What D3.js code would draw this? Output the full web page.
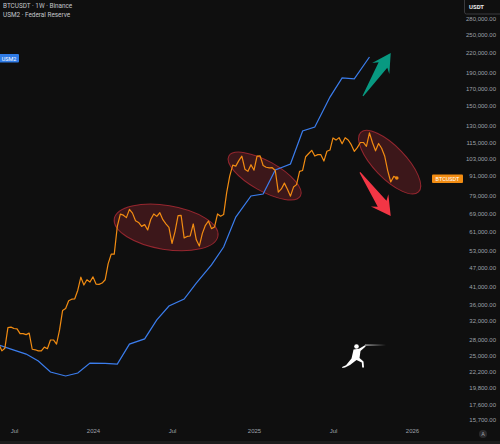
<!DOCTYPE html>
<html>
<head>
<meta charset="utf-8">
<script src="https://cdn.jsdelivr.net/npm/d3@7"></script>
<style>
  html, body { margin: 0; background: #0f0f0f; }
  svg { display: block; font-family: Roboto, "Liberation Sans", sans-serif; }
</style>
</head>
<body>
<svg id="chart"></svg>
<script>
'use strict';

// BTCUSDT weekly closes, first bar = week of 2023-05-29
var btcStart = '2023-05-29';
var btcClose = [
  27100, 25800, 26300, 30500, 30600, 30300, 30200, 29200, 29200, 29000,
  29300, 26100, 26000, 25800, 25800, 26500, 26200, 27900, 27900, 27100,
  30000, 34500, 35000, 37000, 37400, 37500, 39900, 43800, 41400, 43000,
  42300, 43900, 41700, 41600, 42000, 43000, 48300, 51700, 51700, 63100,
  68900, 68400, 67200, 71300, 69400, 65700, 64900, 63100, 63900, 61500,
  66300, 69000, 67800, 69600, 66200, 64300, 62700, 55800, 60800, 68200,
  68300, 58100, 58700, 58900, 64200, 57300, 54800, 60000, 63600, 65600,
  62100, 62800, 69000, 67900, 68700, 80400, 90600, 98000, 97300, 101200,
  104500, 95200, 93700, 98300, 94500, 104500, 104700, 97700, 96500, 96100,
  96200, 94300, 80700, 82600, 86100, 82400, 78400, 83700, 85200, 93700,
  94300, 104100, 106500, 109000, 104600, 105700, 105600, 100900, 108300, 109200,
  119100, 117300, 119400, 114200, 119300, 117400, 113500, 108200, 111100, 115300,
  115300, 112200, 123500, 115100, 108600, 114500, 110600, 104700, 94200, 86800,
  90400, 89300
];

// US M2, trillions USD, monthly from 2023-06
var m2Start = '2023-06-01';
var m2Values = [
  20.855, 20.835, 20.810, 20.775, 20.720, 20.700, 20.715,
  20.765, 20.763, 20.760, 20.860, 20.886, 20.981, 21.051, 21.086, 21.166, 21.257, 21.347, 21.497,
  21.603, 21.613, 21.733, 21.763, 21.929, 21.949, 22.099, 22.195, 22.190, 22.300
];

var priceTicks = [280000, 250000, 220000, 190000, 170000, 150000, 130000, 115000, 103000,
  91000, 79000, 69000, 61000, 53000, 47000, 41000, 36000, 32000, 28000, 25000,
  22200, 19800, 17600, 15700];

var timeTicks = ['2023-07-03', '2024-01-01', '2024-07-01', '2025-01-06', '2025-07-07', '2026-01-05'];
var timeLabels = ['Jul', '2024', 'Jul', '2025', 'Jul', '2026'];

// drawings: ellipses and arrow markers, anchored in time / price
var zones = [
  { from: ['2024-02-19', 66600], to: ['2024-10-15', 58900], half: 22 },
  { from: ['2024-11-09', 104600], to: ['2025-04-23', 78500], half: 15 },
  { from: ['2025-09-09', 123900], to: ['2026-01-20', 80800], half: 16 }
];
var arrows = [
  { from: ['2025-09-14', 161000], to: ['2025-11-17', 219300], color: '#089981' },
  { from: ['2025-09-07', 93000], to: ['2025-11-17', 68000], color: '#f23645' }
];

var width = 500;
var height = 444;
var parse = d3.utcParse('%Y-%m-%d');

var svg = d3.select('#chart')
  .attr('width', width)
  .attr('height', height);

svg.append('rect').attr('width', width).attr('height', height).attr('fill', '#0f0f0f');
svg.append('rect').attr('y', 441).attr('width', width).attr('height', 3).attr('fill', '#1c1c1c');

var x = d3.scaleUtc()
  .domain([parse(timeTicks[0]), parse(timeTicks[timeTicks.length - 1])])
  .range([14, 412]);

var y = d3.scaleLog()
  .domain([15700, 280000])
  .range([420, 19]);

var yM2 = d3.scaleLinear()
  .domain([20.70, 22.30])
  .range([376, 57]);

var btc = btcClose.map(function(v, i) {
  return { date: d3.utcMonday.offset(parse(btcStart), i), value: v };
});

// monthly prints land on the weekly bar holding the day before the 1st
var m2 = m2Values.map(function(v, i) {
  var d = d3.utcMonth.offset(parse(m2Start), i);
  return { date: d3.utcMonday.floor(d3.utcDay.offset(d, -1)), value: v };
});

svg.append('clipPath').attr('id', 'plot-clip')
  .append('rect').attr('width', 432).attr('height', 426);

var plot = svg.append('g').attr('clip-path', 'url(#plot-clip)');

// ellipses
zones.forEach(function(z) {
  var x1 = x(parse(z.from[0])), y1 = y(z.from[1]);
  var x2 = x(parse(z.to[0])), y2 = y(z.to[1]);
  var cx = (x1 + x2) / 2, cy = (y1 + y2) / 2;
  var rx = Math.hypot(x2 - x1, y2 - y1) / 2;
  var angle = Math.atan2(y2 - y1, x2 - x1) * 180 / Math.PI;
  plot.append('ellipse')
    .attr('cx', cx).attr('cy', cy)
    .attr('rx', rx).attr('ry', z.half)
    .attr('transform', 'rotate(' + angle + ',' + cx + ',' + cy + ')')
    .attr('fill', 'rgba(242,54,69,0.2)')
    .attr('stroke', 'rgba(242,54,69,0.55)')
    .attr('stroke-width', 1);
});

var line = d3.line()
  .x(function(d) { return x(d.date); });

plot.append('path')
  .datum(m2)
  .attr('fill', 'none')
  .attr('stroke', '#3b7ded')
  .attr('stroke-width', 1.2)
  .attr('d', line.y(function(d) { return yM2(d.value); }));

plot.append('path')
  .datum(btc)
  .attr('fill', 'none')
  .attr('stroke', '#f28c12')
  .attr('stroke-width', 1.2)
  .attr('stroke-linejoin', 'round')
  .attr('d', line.y(function(d) { return y(d.value); }));

var last = btc[btc.length - 1];
plot.append('circle')
  .attr('cx', x(last.date)).attr('cy', y(last.value))
  .attr('r', 1.8).attr('fill', '#f28c12');

// arrow markers
arrows.forEach(function(a) {
  var x1 = x(parse(a.from[0])), y1 = y(a.from[1]);
  var x2 = x(parse(a.to[0])), y2 = y(a.to[1]);
  var L = Math.hypot(x2 - x1, y2 - y1);
  var angle = Math.atan2(y2 - y1, x2 - x1) * 180 / Math.PI;
  var shape = [[0, -0.5], [0.72 * L, -0.1 * L], [0.64 * L, -0.2 * L], [L, 0],
    [0.64 * L, 0.2 * L], [0.72 * L, 0.1 * L], [0, 0.5]];
  plot.append('polygon')
    .attr('points', shape.map(function(p) { return p.join(','); }).join(' '))
    .attr('transform', 'translate(' + x1 + ',' + y1 + ') rotate(' + angle + ')')
    .attr('fill', a.color);
});

// fencer watermark
var grad = svg.append('linearGradient').attr('id', 'blade');
grad.append('stop').attr('offset', 0).attr('stop-color', '#fff').attr('stop-opacity', 1);
grad.append('stop').attr('offset', 1).attr('stop-color', '#fff').attr('stop-opacity', 0);

var fencer = svg.append('g').attr('transform', 'translate(341,343)');
fencer.append('rect').attr('x', 24).attr('y', 1.6).attr('width', 21).attr('height', 0.9).attr('fill', 'url(#blade)');
fencer.append('circle').attr('cx', 15.5).attr('cy', 3.5).attr('r', 2.3).attr('fill', '#fff');
fencer.append('path')
  .attr('d', 'M12.5,6.5 L18,5.8 L24,2.2 L24.6,3.4 L19.5,8 L18.5,15 L22.5,18.5 L23,24.5 L21.2,24.5 L20.8,19.5 L15.5,17 L9,22 L4,24.5 L1,25 L1.5,23.8 L5,22.3 L10.5,15.5 L12,9 Z')
  .attr('fill', '#fff');

// price axis
var yAxis = svg.append('g')
  .attr('transform', 'translate(496,0)')
  .call(d3.axisRight(y).tickValues(priceTicks).tickFormat(d3.format(',.2f')).tickSize(0));
yAxis.select('.domain').remove();
yAxis.selectAll('text')
  .attr('x', 0)
  .attr('text-anchor', 'end')
  .attr('fill', '#9ea1a9')
  .style('font-size', '6px');

// time axis
var xAxis = svg.append('g')
  .attr('transform', 'translate(0,430)')
  .call(d3.axisBottom(x).tickValues(timeTicks.map(parse))
    .tickFormat(function(d, i) { return timeLabels[i]; }).tickSize(0));
xAxis.select('.domain').remove();
xAxis.selectAll('text')
  .attr('y', 0)
  .attr('dy', '0.5em')
  .attr('fill', '#9ea1a9')
  .style('font-size', '6px');

svg.append('circle').attr('cx', 483).attr('cy', 434).attr('r', 4).attr('fill', '#2a2a2c');
svg.append('text').attr('x', 483).attr('y', 436.2).attr('text-anchor', 'middle')
  .attr('fill', '#9ea1a9').style('font-size', '5.5px').text('A');

// currency box
svg.append('rect').attr('x', 464.5).attr('y', -2).attr('width', 40).attr('height', 16).attr('rx', 2)
  .attr('fill', '#0f0f0f').attr('stroke', '#3a3a3e');
svg.append('text').attr('x', 469).attr('y', 9).attr('fill', '#e8e8e8')
  .style('font-size', '6px').style('font-weight', 'bold').text('USDT');

// series badges
svg.append('rect').attr('x', 432).attr('y', 174.5).attr('width', 31).attr('height', 8.5).attr('rx', 1)
  .attr('fill', '#f28c12');
svg.append('text').attr('x', 447.5).attr('y', 181).attr('text-anchor', 'middle')
  .attr('fill', '#fff').style('font-size', '5.5px').text('BTCUSDT');

svg.append('rect').attr('x', -1).attr('y', 54).attr('width', 20).attr('height', 8.5).attr('rx', 1)
  .attr('fill', '#2f7be6');
svg.append('text').attr('x', 9).attr('y', 60.5).attr('text-anchor', 'middle')
  .attr('fill', '#fff').style('font-size', '5.5px').text('USM2');

// legend
svg.append('text').attr('x', 3).attr('y', 8).attr('fill', '#c4c6cb')
  .style('font-size', '6.4px').text('BTCUSDT · 1W · Binance');
svg.append('text').attr('x', 3).attr('y', 17).attr('fill', '#c4c6cb')
  .style('font-size', '6.4px').text('USM2 · Federal Reserve');
</script>
</body>
</html>
